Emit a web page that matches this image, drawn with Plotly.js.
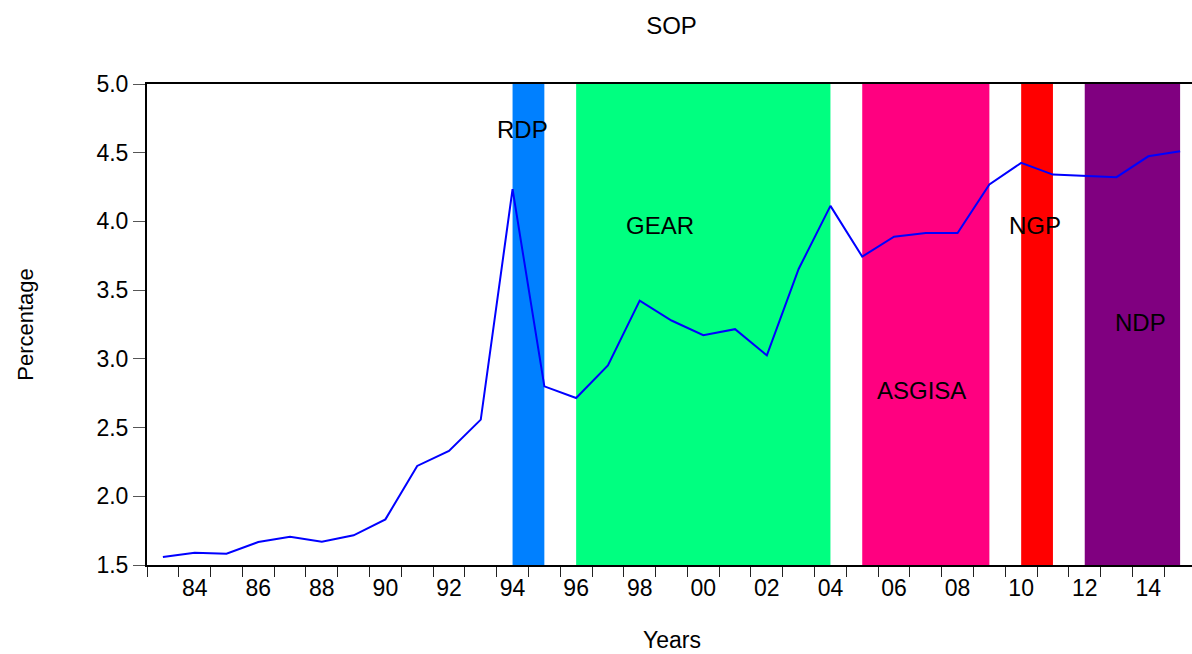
<!DOCTYPE html>
<html>
<head>
<meta charset="utf-8">
<script src="https://cdn.plot.ly/plotly-3.0.1.min.js"></script>
<style>
  html, body { margin: 0; padding: 0; overflow: hidden; background: #fff; }
  #chart { width: 1200px; height: 654px; }
</style>
</head>
<body>
<div id="chart"></div>
<script>
// ---- data ----
const years = [1983, 1984, 1985, 1986, 1987, 1988, 1989, 1990, 1991, 1992, 1993,
               1994, 1995, 1996, 1997, 1998, 1999, 2000, 2001, 2002, 2003, 2004,
               2005, 2006, 2007, 2008, 2009, 2010, 2011, 2012, 2013, 2014, 2015];
const sop = [1.558, 1.589, 1.582, 1.667, 1.706, 1.669, 1.716, 1.832, 2.221, 2.330, 2.558,
             4.235, 2.800, 2.715, 2.952, 3.424, 3.279, 3.172, 3.216, 3.025, 3.654, 4.113,
             3.744, 3.889, 3.916, 3.916, 4.269, 4.426, 4.341, 4.331, 4.322, 4.474, 4.510];

const policyNames = ['RDP', 'GEAR', 'ASGISA', 'NGP', 'NDP'];
const policyStart = [1994, 1996, 2005, 2010, 2012];
const policyEnd   = [1995, 2004, 2009, 2011, 2015];

const xTickVals  = [1984, 1986, 1988, 1990, 1992, 1994, 1996, 1998, 2000, 2002, 2004, 2006, 2008, 2010, 2012, 2014];
const xTickText  = ['84', '86', '88', '90', '92', '94', '96', '98', '00', '02', '04', '06', '08', '10', '12', '14'];
const yTickVals  = [1.5, 2.0, 2.5, 3.0, 3.5, 4.0, 4.5, 5.0];

// ---- styling (kept separate from data) ----
const policyColors = ['#0080FF', '#00FF80', '#FF0080', '#FF0000', '#800080'];
const labelX = [1994.30, 1998.64, 2006.88, 2010.42, 2013.76];
const labelY = [4.671, 3.974, 2.768, 3.972, 3.261];
const FONT = 'Arial, "Liberation Sans", sans-serif';

const shapes = policyNames.map((n, i) => ({
  type: 'rect', xref: 'x', yref: 'paper',
  x0: policyStart[i], x1: policyEnd[i], y0: 0, y1: 1,
  fillcolor: policyColors[i], line: { width: 0 }, layer: 'below'
}));

const annotations = policyNames.map((n, i) => ({
  text: n, x: labelX[i], y: labelY[i], xref: 'x', yref: 'y',
  showarrow: false, xanchor: 'center', yanchor: 'middle',
  font: { family: FONT, size: 24, color: '#000' }
}));
// x-axis title as a paper annotation, placed low like the reference
annotations.push({
  text: 'Years', x: 0.5, y: -(640 - 565) / 481, xref: 'paper', yref: 'paper',
  showarrow: false, xanchor: 'center', yanchor: 'middle',
  font: { family: FONT, size: 23, color: '#000' }
});

const trace = {
  x: years, y: sop, type: 'scatter', mode: 'lines',
  line: { color: '#0000FF', width: 2 }, hoverinfo: 'x+y', showlegend: false
};

const layout = {
  width: 1200, height: 654,
  margin: { l: 147, r: 4, t: 84, b: 89 },
  paper_bgcolor: '#fff', plot_bgcolor: 'rgba(0,0,0,0)',
  font: { family: FONT, color: '#000' },
  title: {
    text: 'SOP', x: 0.5, xref: 'paper', xanchor: 'center',
    y: 1 - 25.5 / 654, yref: 'container', yanchor: 'middle',
    font: { family: FONT, size: 24, color: '#000' }
  },
  xaxis: {
    range: [1982.5, 2015.5],
    tickmode: 'array', tickvals: xTickVals, ticktext: xTickText,
    ticks: 'outside', ticklen: 4, tickcolor: 'rgba(0,0,0,0)',
    ticklabelstandoff: -3,
    tickfont: { family: FONT, size: 23, color: '#000' },
    showgrid: false, zeroline: false,
    showline: true, linecolor: '#000', linewidth: 2, mirror: true,
    minor: { tick0: 1982.5, dtick: 1, ticks: 'outside', ticklen: 10, tickwidth: 1, tickcolor: '#222', showgrid: false }
  },
  yaxis: {
    range: [1.5, 5.0],
    tickmode: 'array', tickvals: yTickVals, tickformat: '.1f',
    ticks: 'outside', ticklen: 12, tickwidth: 1, tickcolor: '#555',
    ticklabelstandoff: 0,
    tickfont: { family: FONT, size: 23, color: '#000' },
    showgrid: false, zeroline: false,
    showline: true, linecolor: '#000', linewidth: 2, mirror: true,
    title: { text: 'Percentage', standoff: 57, font: { family: FONT, size: 22, color: '#000' } }
  },
  shapes: shapes,
  annotations: annotations
};

Plotly.newPlot('chart', [trace], layout, { displayModeBar: false, staticPlot: false });
</script>
</body>
</html>
